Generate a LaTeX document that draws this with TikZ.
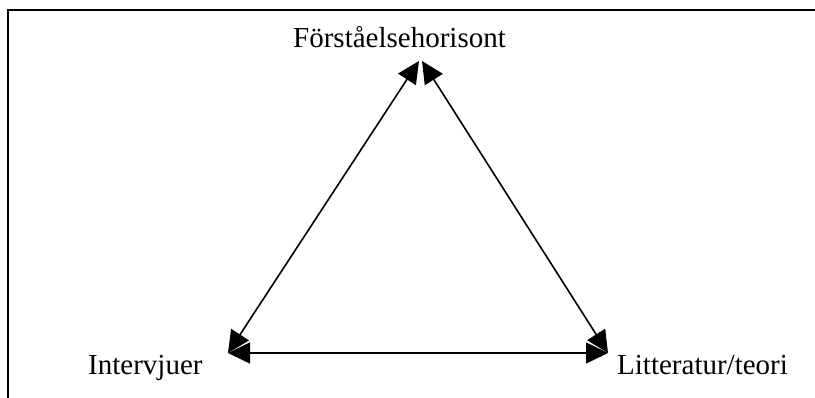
\documentclass[tikz,border=0pt]{standalone}
\usepackage{fontspec}
\setmainfont{Liberation Serif}
\usetikzlibrary{arrows.meta}
\begin{document}
\begin{tikzpicture}[x=1pt,y=-1pt,
  lbl/.style={inner sep=0pt,anchor=base west,font=\fontsize{29}{34}\selectfont},
  link/.style={line width=1.6pt,{Triangle[length=22pt,width=21pt]}-{Triangle[length=22pt,width=21pt]}},
  frameline/.style={line width=2pt}]
\useasboundingbox (0,0) rectangle (815,398);
\fill[white] (0,0) rectangle (815,398);
\coordinate (fc) at (8,10);
\coordinate (fr) at (816,10);
\coordinate (fb) at (8,399);
\draw[frameline] (fr) -- (fc) -- (fb);
\node[lbl] (top) at (293,48) {Förståelsehorisont};
\node[lbl] (intv) at (88,375) {Intervjuer};
\node[lbl] (litt) at (617,375) {Litteratur/teori};
\coordinate (t1) at (419,61);
\coordinate (t2) at (422,61);
\coordinate (bl) at (228,353);
\coordinate (br) at (608,353);
\draw[link] (bl) -- (t1);
\draw[link] (t2) -- (br);
\draw[link] (bl) -- (br);
\end{tikzpicture}
\end{document}
